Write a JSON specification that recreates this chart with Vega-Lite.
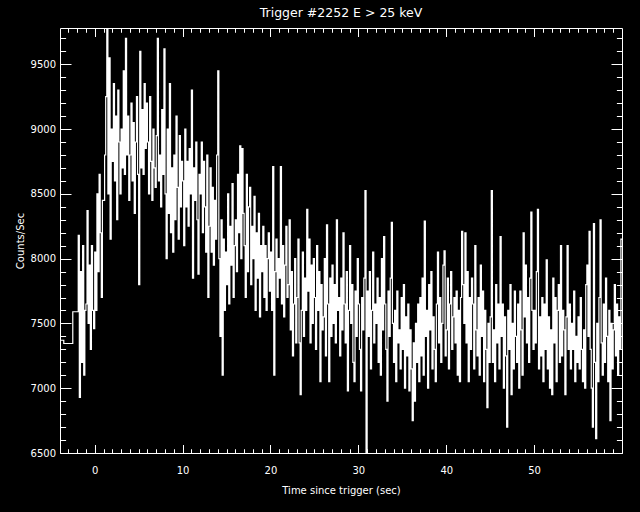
{
"$schema": "https://vega.github.io/schema/vega-lite/v6.json",
"width": 562, "height": 425,
"autosize": {"type": "none"},
"padding": {"left": 60, "top": 28, "right": 18, "bottom": 59},
"background": "black",
"title": {"text": "Trigger #2252 E > 25 keV", "color": "white", "font": "DejaVu Sans", "fontSize": 12.5, "fontWeight": "normal", "anchor": "middle", "offset": 8},
"data": {"values": [
{"t":-4.544,"c":7370},{"t":-3.52,"c":7345},{"t":-2.496,"c":7590},
{"t":-1.875,"c":8180},{"t":-1.75,"c":6930},{"t":-1.625,"c":7900},{"t":-1.5,"c":7200},{"t":-1.375,"c":8100},{"t":-1.25,"c":7100},{"t":-1.125,"c":7600},
{"t":-1,"c":7650},{"t":-0.875,"c":8370},{"t":-0.75,"c":7500},{"t":-0.625,"c":7950},{"t":-0.5,"c":7300},{"t":-0.375,"c":8100},{"t":-0.25,"c":7600},{"t":-0.125,"c":7460},
{"t":0,"c":8050},{"t":0.125,"c":7600},{"t":0.25,"c":8500},{"t":0.375,"c":7900},{"t":0.5,"c":8650},{"t":0.625,"c":8200},{"t":0.75,"c":7700},{"t":0.875,"c":8450},
{"t":1,"c":8450},{"t":1.125,"c":8800},{"t":1.25,"c":9250},{"t":1.375,"c":9850},{"t":1.5,"c":8500},{"t":1.625,"c":9550},{"t":1.75,"c":8150},{"t":1.875,"c":9000},
{"t":2,"c":8750},{"t":2.125,"c":9350},{"t":2.25,"c":8600},{"t":2.375,"c":9100},{"t":2.5,"c":8300},{"t":2.625,"c":9300},{"t":2.75,"c":8900},{"t":2.875,"c":8500},
{"t":3,"c":9000},{"t":3.125,"c":8700},{"t":3.25,"c":9450},{"t":3.375,"c":8650},{"t":3.5,"c":9700},{"t":3.625,"c":8800},{"t":3.75,"c":9100},{"t":3.875,"c":8450},
{"t":4,"c":8800},{"t":4.125,"c":9200},{"t":4.25,"c":8600},{"t":4.375,"c":9050},{"t":4.5,"c":8350},{"t":4.625,"c":8900},{"t":4.75,"c":9250},{"t":4.875,"c":8650},
{"t":5,"c":7800},{"t":5.125,"c":9600},{"t":5.25,"c":8700},{"t":5.375,"c":9150},{"t":5.5,"c":8650},{"t":5.625,"c":9350},{"t":5.75,"c":8850},{"t":5.875,"c":9200},
{"t":6,"c":8900},{"t":6.125,"c":8500},{"t":6.25,"c":9250},{"t":6.375,"c":8750},{"t":6.5,"c":8450},{"t":6.625,"c":9000},{"t":6.75,"c":8700},{"t":6.875,"c":8550},
{"t":7,"c":8950},{"t":7.125,"c":9700},{"t":7.25,"c":8600},{"t":7.375,"c":8800},{"t":7.5,"c":8400},{"t":7.625,"c":9150},{"t":7.75,"c":8650},{"t":7.875,"c":9620},
{"t":8,"c":8500},{"t":8.125,"c":8000},{"t":8.25,"c":9000},{"t":8.375,"c":8350},{"t":8.5,"c":9350},{"t":8.625,"c":8200},{"t":8.75,"c":8700},{"t":8.875,"c":8050},
{"t":9,"c":8800},{"t":9.125,"c":8300},{"t":9.25,"c":9100},{"t":9.375,"c":8550},{"t":9.5,"c":8150},{"t":9.625,"c":8950},{"t":9.75,"c":8400},{"t":9.875,"c":8750},
{"t":10,"c":8600},{"t":10.125,"c":8100},{"t":10.25,"c":9000},{"t":10.375,"c":8400},{"t":10.5,"c":8750},{"t":10.625,"c":8250},{"t":10.75,"c":8850},{"t":10.875,"c":8500},
{"t":11,"c":9300},{"t":11.125,"c":7850},{"t":11.25,"c":8700},{"t":11.375,"c":8450},{"t":11.5,"c":8900},{"t":11.625,"c":8300},{"t":11.75,"c":7880},{"t":11.875,"c":8650},
{"t":12,"c":8500},{"t":12.125,"c":8900},{"t":12.25,"c":8200},{"t":12.375,"c":8750},{"t":12.5,"c":8400},{"t":12.625,"c":8050},{"t":12.75,"c":8800},{"t":12.875,"c":7700},
{"t":13,"c":8250},{"t":13.125,"c":8700},{"t":13.25,"c":8050},{"t":13.375,"c":8550},{"t":13.5,"c":7950},{"t":13.625,"c":8450},{"t":13.75,"c":8150},{"t":13.875,"c":8800},
{"t":14,"c":9450},{"t":14.125,"c":8000},{"t":14.25,"c":7400},{"t":14.375,"c":8300},{"t":14.5,"c":7100},{"t":14.625,"c":8150},{"t":14.75,"c":7600},{"t":14.875,"c":8050},
{"t":15,"c":7800},{"t":15.125,"c":8500},{"t":15.25,"c":7650},{"t":15.375,"c":8250},{"t":15.5,"c":7950},{"t":15.625,"c":8580},{"t":15.75,"c":7700},{"t":15.875,"c":8100},
{"t":16,"c":8300},{"t":16.125,"c":7900},{"t":16.25,"c":8650},{"t":16.375,"c":8200},{"t":16.5,"c":8870},{"t":16.625,"c":8000},{"t":16.75,"c":8850},{"t":16.875,"c":8350},
{"t":17,"c":8100},{"t":17.125,"c":7700},{"t":17.25,"c":8650},{"t":17.375,"c":7900},{"t":17.5,"c":8400},{"t":17.625,"c":8550},{"t":17.75,"c":7800},{"t":17.875,"c":8250},
{"t":18,"c":8000},{"t":18.125,"c":8480},{"t":18.25,"c":7600},{"t":18.375,"c":8200},{"t":18.5,"c":7850},{"t":18.625,"c":8350},{"t":18.75,"c":7550},{"t":18.875,"c":8100},
{"t":19,"c":7900},{"t":19.125,"c":8250},{"t":19.25,"c":7700},{"t":19.375,"c":8100},{"t":19.5,"c":7600},{"t":19.625,"c":8000},{"t":19.75,"c":8200},{"t":19.875,"c":7750},
{"t":20,"c":8050},{"t":20.125,"c":7600},{"t":20.25,"c":8710},{"t":20.375,"c":7100},{"t":20.5,"c":7900},{"t":20.625,"c":8150},{"t":20.75,"c":7700},{"t":20.875,"c":8000},
{"t":21,"c":7850},{"t":21.125,"c":8710},{"t":21.25,"c":7650},{"t":21.375,"c":8100},{"t":21.5,"c":7550},{"t":21.625,"c":7950},{"t":21.75,"c":8250},{"t":21.875,"c":7700},
{"t":22,"c":7800},{"t":22.125,"c":8300},{"t":22.25,"c":7450},{"t":22.375,"c":7900},{"t":22.5,"c":7250},{"t":22.625,"c":7650},{"t":22.75,"c":8000},{"t":22.875,"c":7350},
{"t":23,"c":7700},{"t":23.125,"c":8150},{"t":23.25,"c":7350},{"t":23.375,"c":6950},{"t":23.5,"c":7600},{"t":23.625,"c":8050},{"t":23.75,"c":7400},{"t":23.875,"c":7850},
{"t":24,"c":7600},{"t":24.125,"c":8380},{"t":24.25,"c":7750},{"t":24.375,"c":8150},{"t":24.5,"c":7350},{"t":24.625,"c":7950},{"t":24.75,"c":7500},{"t":24.875,"c":8000},
{"t":25,"c":7700},{"t":25.125,"c":7300},{"t":25.25,"c":8100},{"t":25.375,"c":7600},{"t":25.5,"c":7900},{"t":25.625,"c":7050},{"t":25.75,"c":7800},{"t":25.875,"c":7450},
{"t":26,"c":7550},{"t":26.125,"c":8000},{"t":26.25,"c":7250},{"t":26.375,"c":8260},{"t":26.5,"c":7650},{"t":26.625,"c":7050},{"t":26.75,"c":7850},{"t":26.875,"c":7400},
{"t":27,"c":7950},{"t":27.125,"c":7500},{"t":27.25,"c":7800},{"t":27.375,"c":7350},{"t":27.5,"c":8300},{"t":27.625,"c":7600},{"t":27.75,"c":7700},{"t":27.875,"c":7250},
{"t":28,"c":7850},{"t":28.125,"c":7450},{"t":28.25,"c":8200},{"t":28.375,"c":7650},{"t":28.5,"c":7350},{"t":28.625,"c":7900},{"t":28.75,"c":6980},{"t":28.875,"c":7600},
{"t":29,"c":8100},{"t":29.125,"c":7500},{"t":29.25,"c":7800},{"t":29.375,"c":7200},{"t":29.5,"c":7050},{"t":29.625,"c":7750},{"t":29.75,"c":7400},{"t":29.875,"c":8000},
{"t":30,"c":7650},{"t":30.125,"c":7300},{"t":30.25,"c":6980},{"t":30.375,"c":7700},{"t":30.5,"c":7450},{"t":30.625,"c":7850},{"t":30.75,"c":8525},{"t":30.875,"c":6450},
{"t":31,"c":7750},{"t":31.125,"c":7400},{"t":31.25,"c":7900},{"t":31.375,"c":7150},{"t":31.5,"c":7600},{"t":31.625,"c":8050},{"t":31.75,"c":7350},{"t":31.875,"c":7650},
{"t":32,"c":7500},{"t":32.125,"c":7850},{"t":32.25,"c":7200},{"t":32.375,"c":7700},{"t":32.5,"c":7100},{"t":32.625,"c":8000},{"t":32.75,"c":7450},{"t":32.875,"c":8170},
{"t":33,"c":7650},{"t":33.125,"c":7300},{"t":33.25,"c":6900},{"t":33.375,"c":7750},{"t":33.5,"c":7400},{"t":33.625,"c":7850},{"t":33.75,"c":8280},{"t":33.875,"c":7500},
{"t":34,"c":7200},{"t":34.125,"c":7600},{"t":34.25,"c":7050},{"t":34.375,"c":7750},{"t":34.5,"c":7350},{"t":34.625,"c":7450},{"t":34.75,"c":7150},{"t":34.875,"c":7700},
{"t":35,"c":7300},{"t":35.125,"c":7800},{"t":35.25,"c":7000},{"t":35.375,"c":7550},{"t":35.5,"c":7250},{"t":35.625,"c":7650},{"t":35.75,"c":6980},{"t":35.875,"c":7450},
{"t":36,"c":7150},{"t":36.125,"c":6750},{"t":36.25,"c":7350},{"t":36.375,"c":6900},{"t":36.5,"c":7500},{"t":36.625,"c":7200},{"t":36.75,"c":7650},{"t":36.875,"c":7050},
{"t":37,"c":7700},{"t":37.125,"c":7250},{"t":37.25,"c":7850},{"t":37.375,"c":7100},{"t":37.5,"c":8290},{"t":37.625,"c":7400},{"t":37.75,"c":7600},{"t":37.875,"c":7000},
{"t":38,"c":7800},{"t":38.125,"c":7450},{"t":38.25,"c":7900},{"t":38.375,"c":7150},{"t":38.5,"c":7550},{"t":38.625,"c":7300},{"t":38.75,"c":7050},{"t":38.875,"c":7650},
{"t":39,"c":8050},{"t":39.125,"c":7350},{"t":39.25,"c":7700},{"t":39.375,"c":7200},{"t":39.5,"c":7500},{"t":39.625,"c":7950},{"t":39.75,"c":8060},{"t":39.875,"c":7250},
{"t":40,"c":7450},{"t":40.125,"c":7850},{"t":40.25,"c":7150},{"t":40.375,"c":7650},{"t":40.5,"c":7900},{"t":40.625,"c":7300},{"t":40.75,"c":7550},{"t":40.875,"c":7700},
{"t":41,"c":7350},{"t":41.125,"c":7750},{"t":41.25,"c":7100},{"t":41.375,"c":7600},{"t":41.5,"c":7050},{"t":41.625,"c":7700},{"t":41.75,"c":8210},{"t":41.875,"c":7800},
{"t":42,"c":7500},{"t":42.125,"c":8200},{"t":42.25,"c":7350},{"t":42.375,"c":7900},{"t":42.5,"c":7050},{"t":42.625,"c":7700},{"t":42.75,"c":7300},{"t":42.875,"c":7850},
{"t":43,"c":7650},{"t":43.125,"c":7150},{"t":43.25,"c":8100},{"t":43.375,"c":7450},{"t":43.5,"c":7250},{"t":43.625,"c":7700},{"t":43.75,"c":7100},{"t":43.875,"c":7950},
{"t":44,"c":7400},{"t":44.125,"c":7750},{"t":44.25,"c":7050},{"t":44.375,"c":7600},{"t":44.5,"c":7300},{"t":44.625,"c":6850},{"t":44.75,"c":7500},{"t":44.875,"c":7200},
{"t":45,"c":7550},{"t":45.125,"c":8525},{"t":45.25,"c":7200},{"t":45.375,"c":7450},{"t":45.5,"c":7050},{"t":45.625,"c":7800},{"t":45.75,"c":7350},{"t":45.875,"c":7650},
{"t":46,"c":7150},{"t":46.125,"c":8170},{"t":46.25,"c":7400},{"t":46.375,"c":7650},{"t":46.5,"c":7000},{"t":46.625,"c":7550},{"t":46.75,"c":7250},{"t":46.875,"c":6700},
{"t":47,"c":7600},{"t":47.125,"c":7300},{"t":47.25,"c":7800},{"t":47.375,"c":6950},{"t":47.5,"c":7500},{"t":47.625,"c":7150},{"t":47.75,"c":7750},{"t":47.875,"c":7400},
{"t":48,"c":7200},{"t":48.125,"c":7650},{"t":48.25,"c":7000},{"t":48.375,"c":7750},{"t":48.5,"c":7450},{"t":48.625,"c":7100},{"t":48.75,"c":8200},{"t":48.875,"c":7550},
{"t":49,"c":7950},{"t":49.125,"c":7350},{"t":49.25,"c":7700},{"t":49.375,"c":7200},{"t":49.5,"c":7850},{"t":49.625,"c":8360},{"t":49.75,"c":7600},{"t":49.875,"c":7300},
{"t":50,"c":7600},{"t":50.125,"c":7350},{"t":50.25,"c":7900},{"t":50.375,"c":8380},{"t":50.5,"c":7150},{"t":50.625,"c":7550},{"t":50.75,"c":7250},{"t":50.875,"c":7700},
{"t":51,"c":7050},{"t":51.125,"c":7650},{"t":51.25,"c":7300},{"t":51.375,"c":7990},{"t":51.5,"c":7150},{"t":51.625,"c":7550},{"t":51.75,"c":7000},{"t":51.875,"c":7450},
{"t":52,"c":6950},{"t":52.125,"c":7850},{"t":52.25,"c":7350},{"t":52.375,"c":7700},{"t":52.5,"c":7050},{"t":52.625,"c":7600},{"t":52.75,"c":7800},{"t":52.875,"c":7200},
{"t":53,"c":8100},{"t":53.125,"c":7250},{"t":53.25,"c":7600},{"t":53.375,"c":7450},{"t":53.5,"c":6950},{"t":53.625,"c":7550},{"t":53.75,"c":8100},{"t":53.875,"c":7300},
{"t":54,"c":7650},{"t":54.125,"c":7150},{"t":54.25,"c":7500},{"t":54.375,"c":7300},{"t":54.5,"c":7750},{"t":54.625,"c":7050},{"t":54.75,"c":7400},{"t":54.875,"c":7200},
{"t":55,"c":7550},{"t":55.125,"c":7150},{"t":55.25,"c":7700},{"t":55.375,"c":7300},{"t":55.5,"c":7050},{"t":55.625,"c":7450},{"t":55.75,"c":7000},{"t":55.875,"c":7800},
{"t":56,"c":7950},{"t":56.125,"c":7400},{"t":56.25,"c":8210},{"t":56.375,"c":7300},{"t":56.5,"c":7000},{"t":56.625,"c":6700},{"t":56.75,"c":8270},{"t":56.875,"c":7200},
{"t":57,"c":6610},{"t":57.125,"c":7500},{"t":57.25,"c":7050},{"t":57.375,"c":7700},{"t":57.5,"c":8300},{"t":57.625,"c":7350},{"t":57.75,"c":7100},{"t":57.875,"c":7650},
{"t":58,"c":7200},{"t":58.125,"c":7850},{"t":58.25,"c":7400},{"t":58.375,"c":7050},{"t":58.5,"c":7600},{"t":58.625,"c":6750},{"t":58.75,"c":7500},{"t":58.875,"c":7150},
{"t":59,"c":7450},{"t":59.125,"c":7800},{"t":59.25,"c":7250},{"t":59.375,"c":7650},{"t":59.5,"c":7100},{"t":59.625,"c":7550},{"t":59.75,"c":7300},{"t":59.875,"c":8150},
{"t":60,"c":8150}
]},
"layer": [
{"mark": {"type": "line", "color": "white", "strokeWidth": 1.2, "interpolate": "step-after", "clip": true},
 "encoding": {
  "x": {"field": "t", "type": "quantitative", "scale": {"domain": [-3.95, 60], "nice": false, "zero": false},
        "axis": {"orient": "bottom", "values": [0,10,20,30,40,50], "format": "d", "tickSize": -8.5, "labelPadding": 20.5, "title": "Time since trigger (sec)", "titlePadding": 10}},
  "y": {"field": "c", "type": "quantitative", "scale": {"domain": [6500, 9780], "nice": false, "zero": false},
        "axis": {"orient": "left", "values": [6500,7000,7500,8000,8500,9000,9500], "format": "d", "tickSize": -11, "labelPadding": 15.5, "title": "Counts/Sec", "titlePadding": 5}}
 }},
{"mark": {"type": "point", "opacity": 0, "clip": true},
 "encoding": {
  "x": {"field": "t", "type": "quantitative", "axis": {"orient": "top", "values": [0,10,20,30,40,50], "tickSize": -8.5, "labels": false, "title": null}},
  "y": {"field": "c", "type": "quantitative", "axis": {"orient": "right", "values": [6500,7000,7500,8000,8500,9000,9500], "tickSize": -11, "labels": false, "title": null}}
 }},
{"mark": {"type": "point", "opacity": 0, "clip": true},
 "encoding": {
  "x": {"field": "t", "type": "quantitative", "axis": {"orient": "bottom", "values": [-3,-2,-1,0,1,2,3,4,5,6,7,8,9,10,11,12,13,14,15,16,17,18,19,20,21,22,23,24,25,26,27,28,29,30,31,32,33,34,35,36,37,38,39,40,41,42,43,44,45,46,47,48,49,50,51,52,53,54,55,56,57,58,59], "tickSize": -4.25, "labels": false, "title": null, "domain": false}},
  "y": {"field": "c", "type": "quantitative", "axis": {"orient": "left", "values": [6500,6600,6700,6800,6900,7000,7100,7200,7300,7400,7500,7600,7700,7800,7900,8000,8100,8200,8300,8400,8500,8600,8700,8800,8900,9000,9100,9200,9300,9400,9500,9600,9700], "tickSize": -5.6, "labels": false, "title": null, "domain": false}}
 }},
{"mark": {"type": "point", "opacity": 0, "clip": true},
 "encoding": {
  "x": {"field": "t", "type": "quantitative", "axis": {"orient": "top", "values": [-3,-2,-1,0,1,2,3,4,5,6,7,8,9,10,11,12,13,14,15,16,17,18,19,20,21,22,23,24,25,26,27,28,29,30,31,32,33,34,35,36,37,38,39,40,41,42,43,44,45,46,47,48,49,50,51,52,53,54,55,56,57,58,59], "tickSize": -4.25, "labels": false, "title": null, "domain": false}},
  "y": {"field": "c", "type": "quantitative", "axis": {"orient": "right", "values": [6500,6600,6700,6800,6900,7000,7100,7200,7300,7400,7500,7600,7700,7800,7900,8000,8100,8200,8300,8400,8500,8600,8700,8800,8900,9000,9100,9200,9300,9400,9500,9600,9700], "tickSize": -5.6, "labels": false, "title": null, "domain": false}}
 }}
],
"resolve": {"axis": {"x": "independent", "y": "independent"}},
"config": {
 "view": {"stroke": null},
 "axis": {"grid": false, "domainColor": "white", "tickColor": "white", "labelColor": "white", "titleColor": "white", "labelFont": "DejaVu Sans", "titleFont": "DejaVu Sans", "labelFontSize": 10, "titleFontSize": 10, "titleFontWeight": "normal", "domainWidth": 1, "tickWidth": 1}
}
}
